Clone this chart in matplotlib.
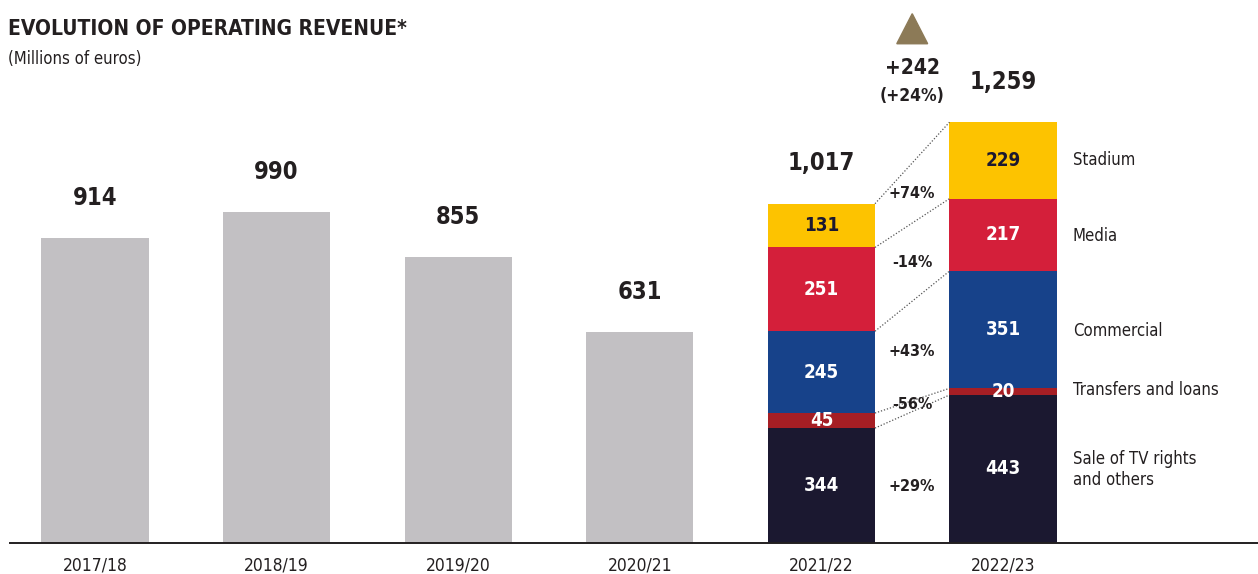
import matplotlib.pyplot as plt
from matplotlib.patches import Polygon

seasons = ['2017/18', '2018/19', '2019/20', '2020/21', '2021/22', '2022/23']
totals = [914, 990, 855, 631, 1017, 1259]

# stacked breakdown for the last two seasons, bottom to top
categories = ['Sale of TV rights\nand others', 'Transfers and loans', 'Commercial', 'Media', 'Stadium']
rev_2122 = [344, 45, 245, 251, 131]
rev_2223 = [443, 20, 351, 217, 229]
changes = ['+29%', '-56%', '+43%', '-14%', '+74%']
cat_colors = ['#1b1830', '#a61e24', '#17428a', '#d41f3a', '#fdc300']
label_colors = ['white', 'white', 'white', 'white', '#1b1830']

diff_abs = '+242'
diff_pct = '(+24%)'

plt.rcParams['font.family'] = ['DejaVu Sans']
plt.rcParams['font.stretch'] = 'condensed'
ink = '#231f20'

fig = plt.figure(figsize=(12.58, 5.74), dpi=100)
ax = fig.add_axes([0, 0, 1, 1])
ax.set_xlim(-0.523, 6.404)
ax.set_ylim(-93, 1626)
ax.axis('off')

w = 0.59
x = list(range(len(seasons)))

# grey bars for the first four seasons
ax.bar(x[:4], totals[:4], width=w, color='#c2c0c3')

# stacked bars
for xi, vals in [(x[4], rev_2122), (x[5], rev_2223)]:
    bottom = 0
    for v, c, lc in zip(vals, cat_colors, label_colors):
        ax.bar(xi, v, bottom=bottom, width=w, color=c)
        ax.text(xi, bottom + v / 2, str(v), ha='center', va='center',
                fontsize=13.5, fontweight='bold', color=lc)
        bottom += v

# totals above every bar
for xi, t in zip(x, totals):
    ax.text(xi, t + 120, f'{t:,}', ha='center', va='center',
            fontsize=17, fontweight='bold', color=ink)

# dotted connectors between segment boundaries
b1, b2 = 0, 0
bounds1, bounds2 = [], []
for v1, v2 in zip(rev_2122, rev_2223):
    b1 += v1
    b2 += v2
    bounds1.append(b1)
    bounds2.append(b2)
for i in range(len(bounds1)):
    ax.plot([x[4] + w / 2, x[5] - w / 2], [bounds1[i], bounds2[i]],
            ls=(0, (1, 1.5)), lw=0.9, color='#555555')

# percentage changes between the stacks
mid = (x[4] + x[5]) / 2
pct_y = [168, 416, 572, 841, 1048]
for pc, py in zip(changes, pct_y):
    ax.text(mid, py, pc, ha='center', va='center', fontsize=11.5,
            fontweight='bold', color=ink)

# category labels on the right
cat_y = [219, 458, 635, 919, 1147]
for cat, cy in zip(categories, cat_y):
    ax.text(x[5] + w / 2 + 0.09, cy, cat, ha='left', va='center',
            fontsize=12, color=ink, linespacing=1.2)

# growth marker
tri = Polygon([[mid - 0.085, 1495], [mid + 0.085, 1495], [mid, 1585]],
              closed=True, color='#8c7a57')
ax.add_patch(tri)
ax.text(mid, 1422, diff_abs, ha='center', va='center', fontsize=15,
        fontweight='bold', color=ink)
ax.text(mid, 1338, diff_pct, ha='center', va='center', fontsize=12.5,
        fontweight='bold', color=ink)

# baseline and season labels
ax.plot([-0.47, 6.404], [0, 0], color=ink, lw=1.4)
for xi, s in zip(x, seasons):
    ax.text(xi, -69, s, ha='center', va='center', fontsize=12.5, color=ink)

fig.text(0.006, 0.95, 'EVOLUTION OF OPERATING REVENUE*', ha='left', va='center',
         fontsize=15, fontweight='bold', color=ink)
fig.text(0.006, 0.898, '(Millions of euros)', ha='left', va='center',
         fontsize=12, color=ink)

fig.savefig('out.png', dpi=100)
